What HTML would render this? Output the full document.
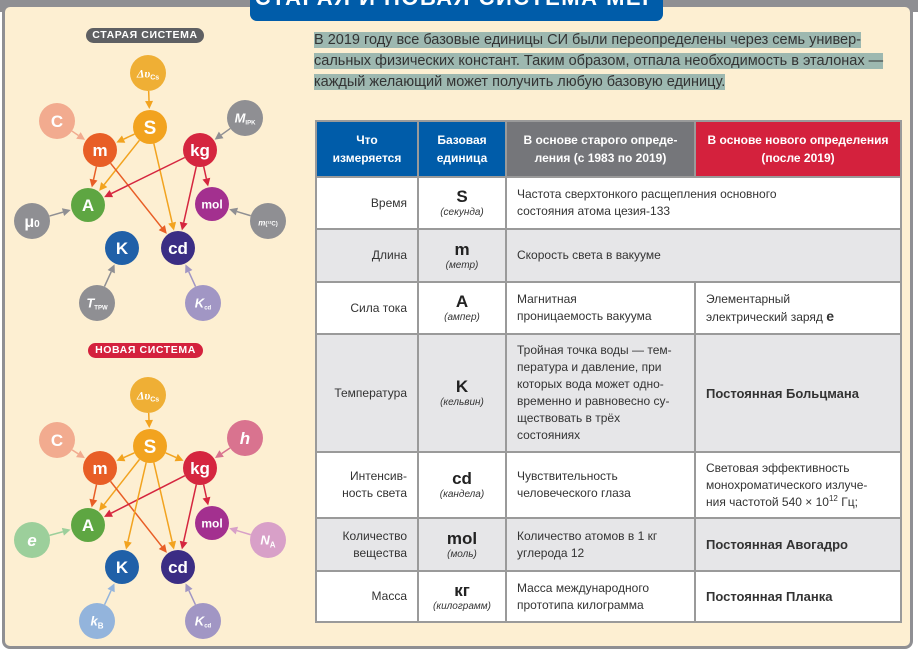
<!DOCTYPE html>
<html><head><meta charset="utf-8">
<style>
*{margin:0;padding:0;box-sizing:border-box}
body{width:918px;height:651px;overflow:hidden;background:#fff;font-family:"Liberation Sans","DejaVu Sans",sans-serif;position:relative}
#frame{position:absolute;left:2px;top:4px;width:911px;height:645px;background:#fdefd2;border:3px solid #8f8f93;border-radius:8px}
#strip{position:absolute;left:0;top:0;width:918px;height:12px;background:#8f8f93}
#title{position:absolute;left:250px;top:-12px;width:413px;height:33px;background:#005ca9;border-radius:0 0 7px 7px;color:#fff;font-weight:bold;font-size:22px;letter-spacing:1.5px;text-align:center;line-height:20px;overflow:hidden;white-space:nowrap}
#para{position:absolute;left:314px;top:30px;width:590px;font-size:14.5px;line-height:21px;color:#333}
#para span{background:#9db8b0}
.pill{position:absolute;height:15px;border-radius:8px;color:#fff;font-weight:bold;font-size:10.5px;letter-spacing:.6px;text-align:center;line-height:15px}
#tbl{position:absolute;left:315px;top:120px;width:587px;height:503px;background:#9a9a9a}
.c{position:absolute;display:flex;align-items:center;font-size:12px;color:#333;line-height:17px}
.h{color:#fff;font-weight:bold;justify-content:center;text-align:center;font-size:12px;line-height:18px}
.l{justify-content:flex-end;text-align:right;padding-right:10px}
.u{flex-direction:column;justify-content:center;text-align:center}
.u b{font-size:17px;line-height:19px;color:#222}
.u i{font-size:10px;line-height:13px}
.d{padding-left:10px}
.w{background:#fff}.g{background:#e6e6e8}
svg{position:absolute;left:0;top:0}
</style></head><body>
<div id="strip"></div>
<div id="frame"></div>
<div id="title">СТАРАЯ И НОВАЯ СИСТЕМА МЕР</div>
<div id="para"><span>В 2019 году все базовые единицы СИ были переопределены через семь универ-</span><br><span>сальных физических констант. Таким образом, отпала необходимость в эталонах —</span><br><span>каждый желающий может получить любую базовую единицу.</span></div>
<div class="pill" style="left:86px;top:28px;width:118px;background:#5f6063">СТАРАЯ СИСТЕМА</div>
<div class="pill" style="left:88px;top:343px;width:115px;background:#d4213d">НОВАЯ СИСТЕМА</div>

<div id="tbl">
<div class="c h" style="left:2px;top:2px;width:100px;height:54px;background:#005ca9"><div>Что<br>измеряется</div></div>
<div class="c h" style="left:104px;top:2px;width:86px;height:54px;background:#005ca9"><div>Базовая<br>единица</div></div>
<div class="c h" style="left:192px;top:2px;width:187px;height:54px;background:#75767a"><div>В основе старого опреде-<br>ления (с 1983 по 2019)</div></div>
<div class="c h" style="left:381px;top:2px;width:204px;height:54px;background:#d4213d"><div>В основе нового определения<br>(после 2019)</div></div>

<div class="c l w" style="left:2px;top:58px;width:100px;height:50px">Время</div>
<div class="c u w" style="left:104px;top:58px;width:86px;height:50px"><b>S</b><i>(секунда)</i></div>
<div class="c d w" style="left:192px;top:58px;width:393px;height:50px"><div>Частота сверхтонкого расщепления основного<br>состояния атома цезия-133</div></div>

<div class="c l g" style="left:2px;top:110px;width:100px;height:51px">Длина</div>
<div class="c u g" style="left:104px;top:110px;width:86px;height:51px"><b>m</b><i>(метр)</i></div>
<div class="c d g" style="left:192px;top:110px;width:393px;height:51px">Скорость света в вакууме</div>

<div class="c l w" style="left:2px;top:163px;width:100px;height:50px">Сила тока</div>
<div class="c u w" style="left:104px;top:163px;width:86px;height:50px"><b>A</b><i>(ампер)</i></div>
<div class="c d w" style="left:192px;top:163px;width:187px;height:50px"><div>Магнитная<br>проницаемость вакуума</div></div>
<div class="c d w" style="left:381px;top:163px;width:204px;height:50px"><div>Элементарный<br>электрический заряд <b style="font-size:14px">e</b></div></div>

<div class="c l g" style="left:2px;top:215px;width:100px;height:116px">Температура</div>
<div class="c u g" style="left:104px;top:215px;width:86px;height:116px"><b>K</b><i>(кельвин)</i></div>
<div class="c d g" style="left:192px;top:215px;width:187px;height:116px"><div>Тройная точка воды — тем-<br>пература и давление, при<br>которых вода может одно-<br>временно и равновесно су-<br>ществовать в трёх<br>состояниях</div></div>
<div class="c d g" style="left:381px;top:215px;width:204px;height:116px;font-weight:bold;font-size:13px">Постоянная Больцмана</div>

<div class="c l w" style="left:2px;top:333px;width:100px;height:64px"><div>Интенсив-<br>ность света</div></div>
<div class="c u w" style="left:104px;top:333px;width:86px;height:64px"><b>cd</b><i>(кандела)</i></div>
<div class="c d w" style="left:192px;top:333px;width:187px;height:64px"><div>Чувствительность<br>человеческого глаза</div></div>
<div class="c d w" style="left:381px;top:333px;width:204px;height:64px"><div>Световая эффективность<br>монохроматического излуче-<br>ния частотой 540 × 10<sup style="font-size:8px;line-height:0">12</sup> Гц;</div></div>

<div class="c l g" style="left:2px;top:399px;width:100px;height:51px"><div>Количество<br>вещества</div></div>
<div class="c u g" style="left:104px;top:399px;width:86px;height:51px"><b>mol</b><i>(моль)</i></div>
<div class="c d g" style="left:192px;top:399px;width:187px;height:51px"><div>Количество атомов в 1 кг<br>углерода 12</div></div>
<div class="c d g" style="left:381px;top:399px;width:204px;height:51px;font-weight:bold;font-size:13px">Постоянная Авогадро</div>

<div class="c l w" style="left:2px;top:452px;width:100px;height:49px">Масса</div>
<div class="c u w" style="left:104px;top:452px;width:86px;height:49px"><b>кг</b><i>(килограмм)</i></div>
<div class="c d w" style="left:192px;top:452px;width:187px;height:49px"><div>Масса международного<br>прототипа килограмма</div></div>
<div class="c d w" style="left:381px;top:452px;width:204px;height:49px;font-weight:bold;font-size:13px">Постоянная Планка</div>
</div>

<svg id="g" width="918" height="651" xmlns="http://www.w3.org/2000/svg"></svg>
<script>
var svg=document.getElementById('g'),NS='http://www.w3.org/2000/svg';
function el(t,a,txt){var e=document.createElementNS(NS,t);for(var k in a)e.setAttribute(k,a[k]);if(txt!==undefined)e.innerHTML=txt;svg.appendChild(e);return e;}
var C={dn:'#efaf35',S:'#f2a31f',C:'#f2ab8f',m:'#e85e26',kg:'#d5263f',A:'#5ea642',mol:'#a3308f',K:'#2060a8',cd:'#3b2d84',gr:'#8f8f93',Kcd:'#a196c4',h:'#d9738f',e:'#9ccf9b',NA:'#d8a0c8',kB:'#93b4dc'};
function diagram(dy,isNew){
 var N={dn:[148,73,18],S:[150,127,17],C:[57,121,18],X:[245,118,18],m:[100,150,17],kg:[200,150,17],A:[88,205,17],mol:[212,204,17],L:[32,221,18],R:[268,221,18],K:[122,248,17],cd:[178,248,17],B:[97,303,18],Kcd:[203,303,18]};
 if(isNew){N.dn[1]=395-dy;N.S[1]=446-dy;N.C[1]=440-dy;N.X[1]=438-dy;N.m[1]=468-dy;N.kg[1]=468-dy;N.A[1]=525-dy;N.mol[1]=523-dy;N.L[1]=540-dy;N.R[1]=540-dy;N.K[1]=567-dy;N.cd[1]=567-dy;N.B[1]=621-dy;N.Kcd[1]=621-dy;}
 var col={dn:C.dn,S:C.S,C:C.C,X:isNew?C.h:C.gr,m:C.m,kg:C.kg,A:C.A,mol:C.mol,L:isNew?C.e:C.gr,R:isNew?C.NA:C.gr,K:C.K,cd:C.cd,B:isNew?C.kB:C.gr,Kcd:C.Kcd};
 var E=[['dn','S'],['C','m'],['S','m'],['S','A'],['S','cd'],['X','kg'],['m','A'],['m','cd'],['kg','A'],['kg','cd'],['kg','mol'],['L','A'],['R','mol'],['B','K'],['Kcd','cd']];
 if(isNew){E.push(['S','kg'],['S','K']);}
 E.forEach(function(p){var a=N[p[0]],b=N[p[1]];var x1=a[0],y1=a[1]+dy,x2=b[0],y2=b[1]+dy;var dx=x2-x1,dyy=y2-y1,L=Math.hypot(dx,dyy),ux=dx/L,uy=dyy/L;
  var sx=x1+ux*a[2],sy=y1+uy*a[2],ex=x2-ux*(b[2]+1),ey=y2-uy*(b[2]+1);var c=col[p[0]];if(p[0]=='S'||p[0]=='dn')c='#f2a31f';
  var bx=ex-ux*8,by=ey-uy*8;
  el('line',{x1:sx,y1:sy,x2:bx,y2:by,stroke:c,'stroke-width':1.5});
  el('polygon',{points:ex+','+ey+' '+(bx-uy*4)+','+(by+ux*4)+' '+(bx+uy*4)+','+(by-ux*4),fill:c});});
 var lab={dn:'<tspan font-family="Liberation Serif" font-style="italic">Δυ</tspan><tspan font-size="7" dy="2">Cs</tspan>',S:'S',C:'C',X:isNew?'<tspan font-style="italic">h</tspan>':'<tspan font-style="italic">M</tspan><tspan font-size="6" dy="2">IPK</tspan>',m:'m',kg:'kg',A:'A',mol:'mol',L:isNew?'<tspan font-style="italic">e</tspan>':'μ<tspan font-size="10">0</tspan>',R:isNew?'<tspan font-style="italic">N</tspan><tspan font-size="8" dy="3">A</tspan>':'<tspan font-style="italic" font-size="8">m</tspan><tspan font-size="6">(¹²C)</tspan>',K:'K',cd:'cd',B:isNew?'<tspan font-style="italic">k</tspan><tspan font-size="8" dy="3">B</tspan>':'<tspan font-style="italic">T</tspan><tspan font-size="6" dy="2">TPW</tspan>',Kcd:'<tspan font-style="italic">K</tspan><tspan font-size="6" dy="2">cd</tspan>'};
 var fs={dn:12,S:19,C:17,X:isNew?17:13,m:17,kg:17,A:17,mol:12,L:isNew?17:16,R:13,K:17,cd:17,B:13,Kcd:13};
 for(var k in N){var n=N[k];el('circle',{cx:n[0],cy:n[1]+dy,r:n[2],fill:col[k]});
  el('text',{x:n[0],y:n[1]+dy+fs[k]*0.36,'text-anchor':'middle',fill:'#fff','font-weight':'bold','font-size':fs[k],'font-family':'Liberation Sans, sans-serif'},lab[k]);}
}
diagram(0,false);diagram(0,true);
</script>
</body></html>
